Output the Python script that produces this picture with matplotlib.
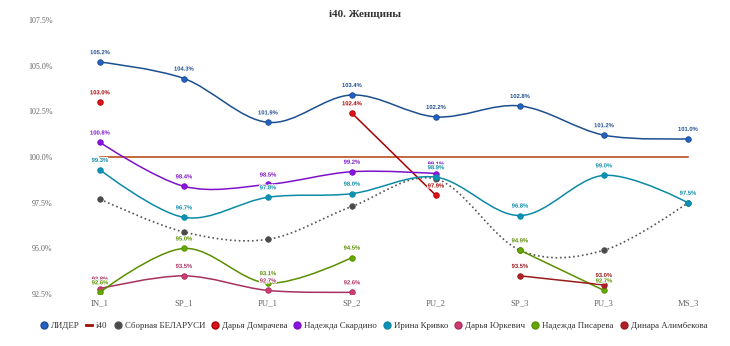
import numpy as np
import matplotlib.pyplot as plt
from matplotlib.path import Path
from matplotlib.patches import PathPatch
from matplotlib.lines import Line2D
import matplotlib.patheffects as pe

stages = ['IN_1', 'SP_1', 'PU_1', 'SP_2', 'PU_2', 'SP_3', 'PU_3', 'MS_3']
N = None

leader = [105.2, 104.3, 101.9, 103.4, 102.2, 102.8, 101.2, 101.0]
i40 = [100.0] * 8
team = [97.7, 95.9, 95.5, 97.3, 98.8, 94.9, 94.9, 97.5]
domracheva = [103.0, N, N, 102.4, 97.9, N, N, N]
skardino = [100.8, 98.4, 98.5, 99.2, 99.1, N, N, N]
krivko = [99.3, 96.7, 97.8, 98.0, 98.9, 96.8, 99.0, 97.5]
yurkevich = [92.8, 93.5, 92.7, 92.6, N, N, N, N]
pisareva = [92.6, 95.0, 93.1, 94.5, N, 94.9, 92.7, N]
alimbekova = [N, N, N, N, N, 93.5, 93.0, N]

# name, values, line colour, marker colour, line style, show labels
series = [
    ('ЛИДЕР', leader, '#1c4f8f', '#2361c4', '-', True),
    ('Сборная БЕЛАРУСИ', team, '#555555', '#4a4a4a', ':', False),
    ('Дарья Домрачева', domracheva, '#a80000', '#e0111b', '-', True),
    ('Надежда Скардино', skardino, '#7d12c9', '#8a12e0', '-', True),
    ('Ирина Кривко', krivko, '#0b8aa6', '#0e8fb8', '-', True),
    ('Дарья Юркевич', yurkevich, '#a8305f', '#d13b74', '-', True),
    ('Надежда Писарева', pisareva, '#5a8f00', '#63a800', '-', True),
    ('Динара Алимбекова', alimbekova, '#9a1a1a', '#b0202a', '-', True),
]


def spline_path(xs, ys):
    # smooth curve through the points (cubic bezier, catmull-rom tangents)
    verts = [(xs[0], ys[0])]
    codes = [Path.MOVETO]
    n = len(xs)
    for i in range(1, n):
        x0, y0 = xs[i - 1], ys[i - 1]
        x1, y1 = xs[i], ys[i]
        if i - 1 > 0:
            c1 = (x0 + 1 / 3, y0 + (ys[i] - ys[i - 2]) / 6)
        else:
            c1 = (x0, y0)
        if i < n - 1:
            c2 = (x1 - 1 / 3, y1 - (ys[i + 1] - ys[i - 1]) / 6)
        else:
            c2 = (x1, y1)
        verts += [c1, c2, (x1, y1)]
        codes += [Path.CURVE4] * 3
    return Path(verts, codes)


fig = plt.figure(figsize=(7.3, 3.46), dpi=100)
ax = fig.add_axes([0.0795, 0.150, 0.9205, 0.792])

x = np.arange(len(stages))
ax.plot(x, i40, color='#b5400c', lw=1.1, zorder=2)

halo = [pe.withStroke(linewidth=1.5, foreground='white')]
for k, (name, vals, lc, mc, ls, lab) in enumerate(series):
    # split into runs without gaps
    run = []
    runs = []
    for i, v in enumerate(vals):
        if v is None:
            if run:
                runs.append(run)
            run = []
        else:
            run.append(i)
    if run:
        runs.append(run)
    for r in runs:
        xs = [float(i) for i in r]
        ys = [vals[i] for i in r]
        if len(r) > 1:
            p = spline_path(xs, ys)
            ax.add_patch(PathPatch(p, fill=False, edgecolor=lc, lw=1.1 if ls == '-' else 1.2,
                                   linestyle=ls, zorder=3 + k))
        ax.plot(xs, ys, 'o', color=mc, mec=lc, mew=0.6, ms=4, zorder=3.5 + k)
        if not lab:
            continue
        for xi, yi in zip(xs, ys):
            ax.annotate(f'{yi:.1f}%', (xi, yi), xytext=(0, 5), textcoords='offset points',
                        ha='center', va='bottom', fontsize=4.2, fontweight='bold',
                        color=lc, family='Liberation Sans', path_effects=halo, zorder=20)

ax.set_xlim(-0.5, 7.5)
ax.set_ylim(92.5, 107.5)
ax.set_xticks(x)
ax.set_xticklabels(stages, family='Liberation Serif', fontsize=6.3, color='#666666')
yt = [92.5, 95.0, 97.5, 100.0, 102.5, 105.0, 107.5]
ax.set_yticks(yt)
ax.set_yticklabels([f'{v:.1f}%' for v in yt], family='Liberation Serif', fontsize=5.8, color='#666666')
ax.tick_params(length=0, pad=4)
for s in ax.spines.values():
    s.set_visible(False)

fig.text(0.5, 0.958, 'i40. Женщины', ha='center', va='center', fontsize=8, fontweight='bold',
         family='Liberation Serif', color='#333333')

handles = [Line2D([], [], marker='o', ls='none', color=series[0][3], mec=series[0][2], ms=5),
           Line2D([], [], color='#a01000', lw=2)]
labels = ['ЛИДЕР', 'i40']
for name, vals, lc, mc, ls, lab in series[1:]:
    handles.append(Line2D([], [], marker='o', ls='none', color=mc, mec=lc, ms=5))
    labels.append(name)
fig.legend(handles, labels, loc='center', bbox_to_anchor=(0.512, 0.058), ncol=9, frameon=False,
           prop={'family': 'Liberation Serif', 'size': 6.4}, handlelength=0.7, handletextpad=0.45,
           columnspacing=0.75, labelcolor='#333333')

fig.savefig('out.png', dpi=100)
